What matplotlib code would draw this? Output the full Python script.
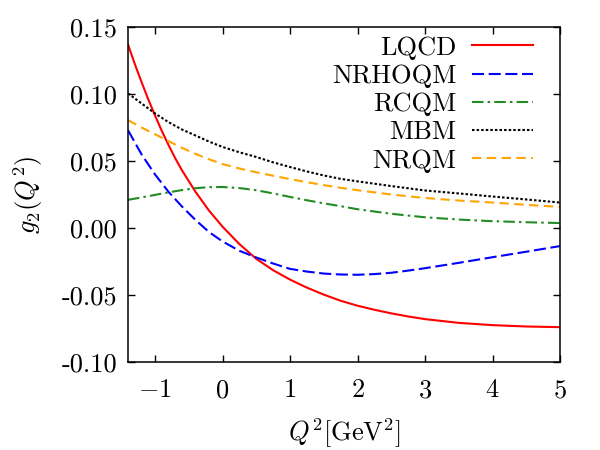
import matplotlib
matplotlib.use("Agg")
import matplotlib.pyplot as plt

# ---- data ----
x_lqcd = [-1.4, -1.3, -1.2, -1.1, -1.0, -0.9, -0.8, -0.7, -0.6, -0.5, -0.4, -0.3,
          -0.2, -0.1, 0.0, 0.25, 0.5, 0.75, 1.0, 1.25, 1.5, 1.75, 2.0, 2.25, 2.5,
          2.75, 3.0, 3.5, 4.0, 4.5, 5.0]
y_lqcd = [0.137, 0.1225, 0.109, 0.096, 0.084, 0.0725, 0.062, 0.052, 0.043, 0.035,
          0.027, 0.020, 0.013, 0.007, 0.001, -0.012, -0.023, -0.0315, -0.0385,
          -0.0445, -0.0497, -0.0543, -0.058, -0.061, -0.0637, -0.066, -0.068,
          -0.0708, -0.0725, -0.0735, -0.074]

x_nrhoqm = [-1.4, -1.2, -1.0, -0.8, -0.6, -0.4, -0.2, 0.0, 0.25, 0.5, 0.75, 1.0,
            1.25, 1.5, 1.75, 2.0, 2.25, 2.5, 2.75, 3.0, 3.5, 4.0, 4.5, 5.0]
y_nrhoqm = [0.073, 0.055, 0.040, 0.027, 0.016, 0.006, -0.003, -0.010, -0.017,
            -0.022, -0.0265, -0.0305, -0.0325, -0.0340, -0.0347, -0.0349, -0.0344,
            -0.0334, -0.0318, -0.030, -0.026, -0.0218, -0.0177, -0.0135]

x_rcqm = [-1.4, -1.2, -1.0, -0.8, -0.6, -0.4, -0.2, 0.0, 0.25, 0.5, 0.75, 1.0,
          1.25, 1.5, 1.75, 2.0, 2.5, 3.0, 3.5, 4.0, 4.5, 5.0]
y_rcqm = [0.021, 0.0228, 0.0247, 0.0266, 0.0283, 0.0297, 0.0305, 0.0306, 0.0298,
          0.0282, 0.0258, 0.0232, 0.0207, 0.0184, 0.0163, 0.0140, 0.0106, 0.0080,
          0.0063, 0.0051, 0.0043, 0.0037]

x_mbm = x_rcqm
y_mbm = [0.1005, 0.093, 0.0855, 0.079, 0.0735, 0.069, 0.0645, 0.0605, 0.0565,
         0.053, 0.0490, 0.0455, 0.0422, 0.0392, 0.0367, 0.0348, 0.0313, 0.0280,
         0.0258, 0.0235, 0.0213, 0.0190]

x_nrqm = x_rcqm
y_nrqm = [0.0805, 0.075, 0.070, 0.0648, 0.0598, 0.0553, 0.0513, 0.0477, 0.0444,
          0.0416, 0.0390, 0.0365, 0.0342, 0.0320, 0.0300, 0.0282, 0.0250, 0.0224,
          0.0205, 0.0190, 0.0173, 0.0157]

labels = ["LQCD", "NRHOQM", "RCQM", "MBM", "NRQM"]
xticks = [-1, 0, 1, 2, 3, 4, 5]
yticks = [-0.10, -0.05, 0.00, 0.05, 0.10, 0.15]

# ---- style ----
plt.rcParams['font.family'] = 'cmr10'
plt.rcParams['mathtext.fontset'] = 'cm'
plt.rcParams['axes.unicode_minus'] = False
plt.rcParams['axes.formatter.use_mathtext'] = True

fs = 19
fig = plt.figure(figsize=(6, 4.5), dpi=100)
ax = fig.add_axes([128/600, 1-362/450, (560-128)/600, (362-27)/450])

lw = 1.5
ax.plot(x_lqcd, y_lqcd, color='#ff0000', lw=lw, label=labels[0])
ax.plot(x_nrhoqm, y_nrhoqm, color='#0000ff', lw=lw, dashes=(5.8, 2.2), label=labels[1])
ax.plot(x_rcqm, y_rcqm, color='#228b22', lw=lw, dashes=(5.5, 2.0, 1.2, 2.0), label=labels[2])
ax.plot(x_mbm, y_mbm, color='#000000', lw=lw, dashes=(1.2, 1.0), label=labels[3])
ax.plot(x_nrqm, y_nrqm, color='#ffa500', lw=lw, dashes=(4.5, 2.6), label=labels[4])

ax.set_xlim(-1.4, 5)
ax.set_ylim(-0.10, 0.15)
ax.set_xticks(xticks)
ax.set_xticklabels([r'$%d$' % v for v in xticks], fontsize=fs)
ax.set_yticks(yticks)
ax.set_yticklabels(['%.2f' % v if v < 0 else '%.2f' % abs(v) for v in yticks], fontsize=fs)
ax.tick_params(axis='x', direction='in', top=True, length=5, width=1, pad=12)
ax.tick_params(axis='y', direction='in', right=True, length=5, width=1, pad=8)
for s in ax.spines.values():
    s.set_linewidth(1.1)

ax.set_xlabel(r'$Q^2[\mathrm{GeV}^2]$', fontsize=fs, labelpad=10)
ax.set_ylabel(r'$g_2(Q^2)$', fontsize=fs, labelpad=12)

leg = ax.legend(loc='upper right', markerfirst=False, frameon=False, fontsize=fs,
                handlelength=2.3, handletextpad=0.6, labelspacing=0.17,
                borderaxespad=0.0, borderpad=0.0,
                bbox_to_anchor=(1 - 27/432, 1 - 9/335))

fig.savefig('out.png', dpi=100)
